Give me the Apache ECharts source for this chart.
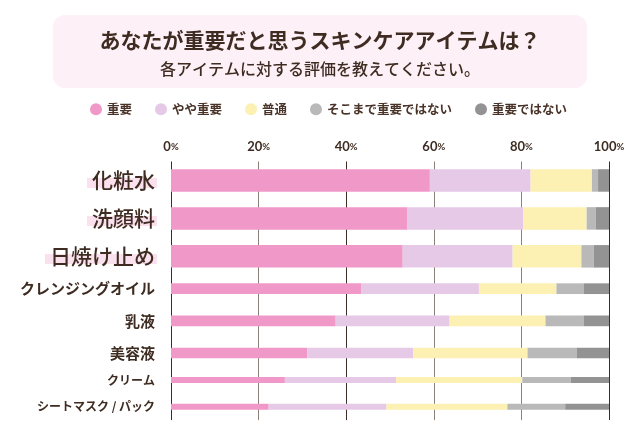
<!DOCTYPE html>
<html>
<head>
<meta charset="utf-8">
<script src="https://cdn.jsdelivr.net/npm/echarts@6/dist/echarts.min.js"></script>
<style>
html,body{margin:0;padding:0;background:#ffffff;}
#chart{width:640px;height:440px;}
</style>
</head>
<body>
<div id="chart"></div>
<script>
// ---- data ----
const categories = ['化粧水', '洗顔料', '日焼け止め', 'クレンジングオイル', '乳液', '美容液', 'クリーム', 'シートマスク / パック'];
const levelNames = ['重要', 'やや重要', '普通', 'そこまで重要ではない', '重要ではない'];
const important      = [59.1, 54.0, 52.9, 43.5, 37.6, 31.1, 26.0, 22.3];
const somewhatImp    = [23.0, 26.4, 25.1, 26.8, 26.0, 24.2, 25.4, 26.9];
const neutral        = [14.0, 14.5, 15.7, 17.7, 21.9, 26.1, 28.8, 27.6];
const notVery        = [1.4, 2.1, 2.8, 6.2, 8.7, 11.2, 11.1, 13.2];
const notImportant   = [2.5, 3.0, 3.5, 5.8, 5.8, 7.4, 8.7, 10.0];
const xTicks = [0, 20, 40, 60, 80, 100];
const titleText = 'あなたが重要だと思うスキンケアアイテムは？';
const subtitleText = '各アイテムに対する評価を教えてください。';

// ---- styling ----
const levelValues = [important, somewhatImp, neutral, notVery, notImportant];
const colors = ['#f098c8', '#e5c9e7', '#fdf0b3', '#b9b9b9', '#939393'];
const textColor = '#3e2c22';
const jp = '"Noto Sans CJK JP", "Noto Sans", sans-serif';

// groups of rows drawn at different sizes
const groups = [
  {from: 0, to: 3, top: 161.5, height: 113.8, barWidth: 22.5, style: 'big'},
  {from: 3, to: 6, top: 272.6, height: 96.5, barWidth: 10.7, style: 'mid'},
  {from: 6, to: 8, top: 366.7, height: 53.4, barWidth: 6, style: 'small'}
];

const hl = 'rgba(251,226,238,0)';
const hlOn = '#fbe1ee';
const richY = {
  big: {fontSize: 21, fontWeight: 500, color: textColor, fontFamily: jp, lineHeight: 26,
        padding: [0, 2, 0, 5],
        backgroundColor: {type: 'linear', x: 0, y: 0, x2: 0, y2: 1, colorStops: [
          {offset: 0, color: hl}, {offset: 0.4, color: hl},
          {offset: 0.4, color: hlOn}, {offset: 0.86, color: hlOn},
          {offset: 0.86, color: hl}, {offset: 1, color: hl}]}},
  mid: {fontSize: 15, fontWeight: 'bold', color: textColor, fontFamily: jp, padding: [0, 2, 0, 0]},
  small: {fontSize: 12, fontWeight: 'bold', color: textColor, fontFamily: jp, padding: [0, 2, 0, 0]}
};

const splitColors = ['#3d2e25', '#8a817b', '#3d2e25', '#8a817b', '#8a817b', '#3d2e25'];

const grids = [], xAxes = [], yAxes = [], series = [];
groups.forEach((g, gi) => {
  grids.push({left: 171, right: 31, top: g.top, height: g.height, outerBoundsMode: 'none', containLabel: false});
  xAxes.push({
    type: 'value', gridIndex: gi, position: 'top',
    min: xTicks[0], max: xTicks[xTicks.length - 1], interval: xTicks[1] - xTicks[0],
    axisLine: {show: false}, axisTick: {show: false},
    splitLine: {show: true, lineStyle: {color: splitColors, width: 1}},
    axisLabel: {
      show: gi === 0, margin: 8,
      formatter: v => '{n|' + v + '}{p|%}',
      rich: {
        n: {fontSize: 13, color: textColor, fontFamily: 'Lato, "Noto Sans", sans-serif', fontWeight: 'bold'},
        p: {fontSize: 9.5, color: textColor, fontFamily: 'Lato, "Noto Sans", sans-serif', fontWeight: 'bold'}
      }
    }
  });
  yAxes.push({
    type: 'category', gridIndex: gi, inverse: true,
    data: categories.slice(g.from, g.to),
    axisLine: {show: false}, axisTick: {show: false}, splitLine: {show: false},
    axisLabel: {margin: 14, formatter: v => '{' + g.style + '|' + v + '}', rich: richY}
  });
  levelNames.forEach((name, li) => {
    series.push({
      type: 'bar', name: name, stack: 'g' + gi,
      xAxisIndex: gi, yAxisIndex: gi,
      barWidth: g.barWidth,
      itemStyle: {color: colors[li]},
      emphasis: {disabled: true},
      data: levelValues[li].slice(g.from, g.to)
    });
  });
});

const chart = echarts.init(document.getElementById('chart'), null, {renderer: 'canvas'});
chart.setOption({
  backgroundColor: '#ffffff',
  animation: false,
  color: colors,
  graphic: [{
    type: 'rect', z: -10, silent: true,
    shape: {x: 53, y: 15, width: 534, height: 73, r: 12},
    style: {fill: '#fdf0f6'}
  }],
  title: [
    {text: titleText, left: 'center', top: 30, padding: 0,
     textStyle: {fontSize: 21, fontWeight: 'bold', color: textColor, fontFamily: jp}},
    {text: subtitleText, left: 'center', top: 61, padding: 0,
     textStyle: {fontSize: 16, fontWeight: 500, color: textColor, fontFamily: jp}}
  ],
  legend: {
    data: levelNames, left: 90, top: 103, padding: 0,
    icon: 'circle', itemWidth: 12, itemHeight: 12, itemGap: 23,
    textStyle: {fontSize: 12.5, fontWeight: 'bold', color: '#4a3328', fontFamily: jp},
    selectedMode: false
  },
  grid: grids,
  xAxis: xAxes,
  yAxis: yAxes,
  series: series
});
</script>
</body>
</html>
